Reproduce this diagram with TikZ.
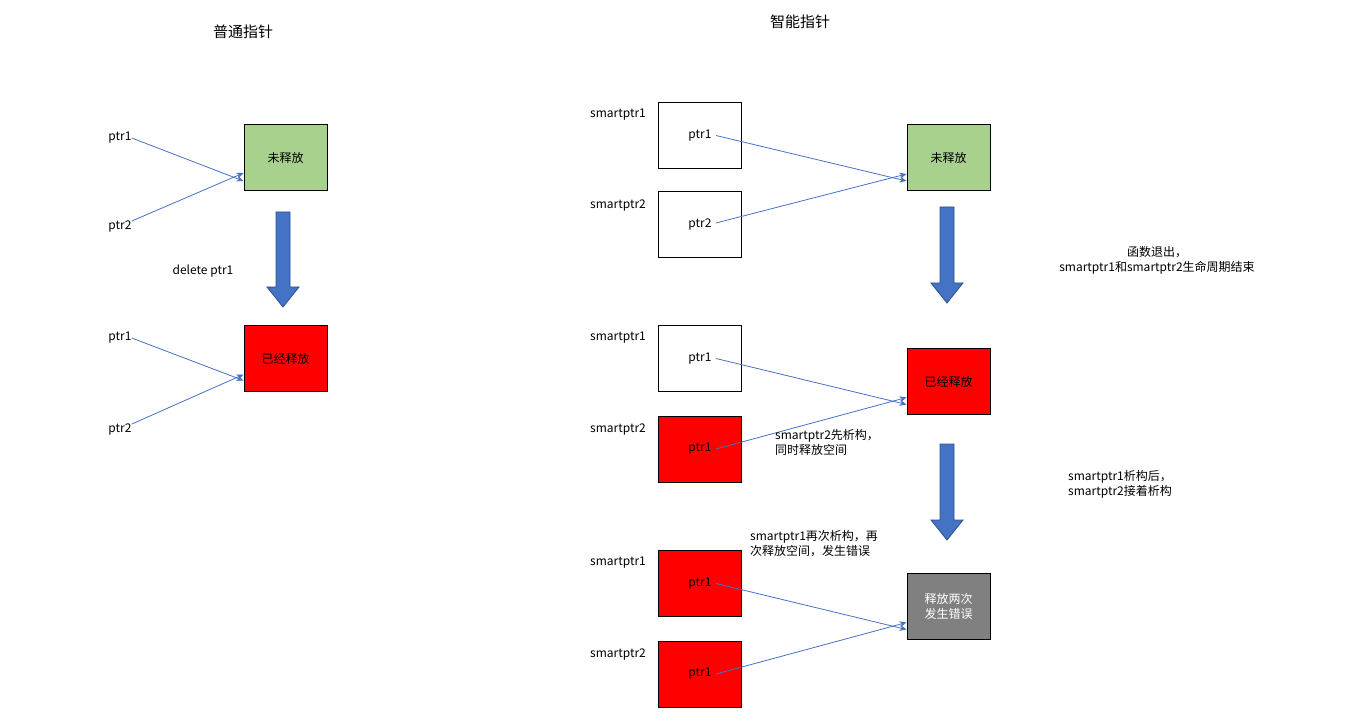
\documentclass[tikz,border=0pt]{standalone}
\usepackage{fontspec}
\setmainfont{Noto Sans CJK SC}
\usetikzlibrary{arrows.meta}
\definecolor{lb}{HTML}{4472C4}
\definecolor{gr}{HTML}{A9D18E}
\begin{document}
\begin{tikzpicture}[x=1pt,y=-1pt,font=\fontsize{12}{15}\selectfont,
 box/.style={draw,line width=1pt,minimum width=83pt,minimum height=66pt,inner sep=0pt,align=center},
 lbl/.style={inner sep=0pt},
 ar/.style={draw=lb,line width=0.8pt,-{Stealth[length=7pt,width=6pt]}},
 big/.style={fill=lb,draw=lb!70!black,line width=0.8pt}]
\useasboundingbox (0,0) rectangle (1353,722);
\newcommand{\bigarrow}[3]{\draw[big] (#1-7,#2) -- (#1+7,#2) -- (#1+7,#3-20) -- (#1+16,#3-20) -- (#1,#3) -- (#1-16,#3-20) -- (#1-7,#3-20) -- cycle;}
\node[lbl,font=\fontsize{15}{18}\selectfont] (t1) at (243,32) {普通指针};
\node[lbl,font=\fontsize{15}{18}\selectfont] (t2) at (800,22) {智能指针};
% left
\node[box,fill=gr] (g1) at (285.5,158) {未释放};
\node[lbl] (p1) at (120,138) {ptr1};
\node[lbl] (p2) at (120,227) {ptr2};
\draw[ar] (p1.east) -- ([yshift=-23pt]g1.west);
\draw[ar] (p2.north east) -- ([yshift=-15pt]g1.west);
\bigarrow{283}{212}{307}
\node[lbl] (d) at (203,271) {delete ptr1};
\node[box,fill=red] (r1) at (285.5,358.5) {已经释放};
\node[lbl] (q1) at (120,338) {ptr1};
\node[lbl] (q2) at (120,430) {ptr2};
\draw[ar] (q1.east) -- ([yshift=-22pt]r1.west);
\draw[ar] (q2.north east) -- ([yshift=-16pt]r1.west);
% right row1
\node[lbl] (s1) at (618,115) {smartptr1};
\node[box,fill=white] (a1) at (700,135.5) {ptr1};
\node[lbl] (s2) at (618,206) {smartptr2};
\node[box,fill=white] (a2) at (700,225) {ptr2};
\node[box,fill=gr] (g2) at (948.5,158) {未释放};
\draw[ar] ([xshift=-26pt]a1.east) -- ([yshift=-23pt]g2.west);
\draw[ar] ([xshift=-26pt,yshift=2pt]a2.east) -- ([yshift=-16pt]g2.west);
\bigarrow{947}{207}{303}
\node[lbl,align=center] (c1) at (1157,260) {函数退出，\\smartptr1和smartptr2生命周期结束};
% row2
\node[lbl] (s3) at (618,338) {smartptr1};
\node[box,fill=white] (b1) at (700,358.5) {ptr1};
\node[lbl] (s4) at (618,430) {smartptr2};
\node[box,fill=red] (b2) at (700,449) {ptr1};
\node[box,fill=red] (r2) at (948.5,381.5) {已经释放};
\draw[ar] ([xshift=-26pt]b1.east) -- ([yshift=-23pt]r2.west);
\draw[ar] ([xshift=-26pt]b2.east) -- ([yshift=-16pt]r2.west);
\node[lbl,align=left,anchor=west] (c2) at (775,442) {smartptr2先析构，\\同时释放空间};
\bigarrow{947}{444}{540}
\node[lbl,align=center] (c3) at (1120,484) {smartptr1析构后，\\smartptr2接着析构};
% row3
\node[lbl] (s5) at (618,563) {smartptr1};
\node[box,fill=red] (e1) at (700,583.5) {ptr1};
\node[lbl] (s6) at (618,655) {smartptr2};
\node[box,fill=red] (e2) at (700,674) {ptr1};
\node[box,fill=gray,text=white] (x) at (948.5,606.5) {释放两次\\发生错误};
\draw[ar] ([xshift=-26pt]e1.east) -- ([yshift=-23pt]x.west);
\draw[ar] ([xshift=-26pt]e2.east) -- ([yshift=-16pt]x.west);
\node[lbl,align=left,anchor=west] (c4) at (750,544) {smartptr1再次析构，再\\次释放空间，发生错误};
\end{tikzpicture}
\end{document}
